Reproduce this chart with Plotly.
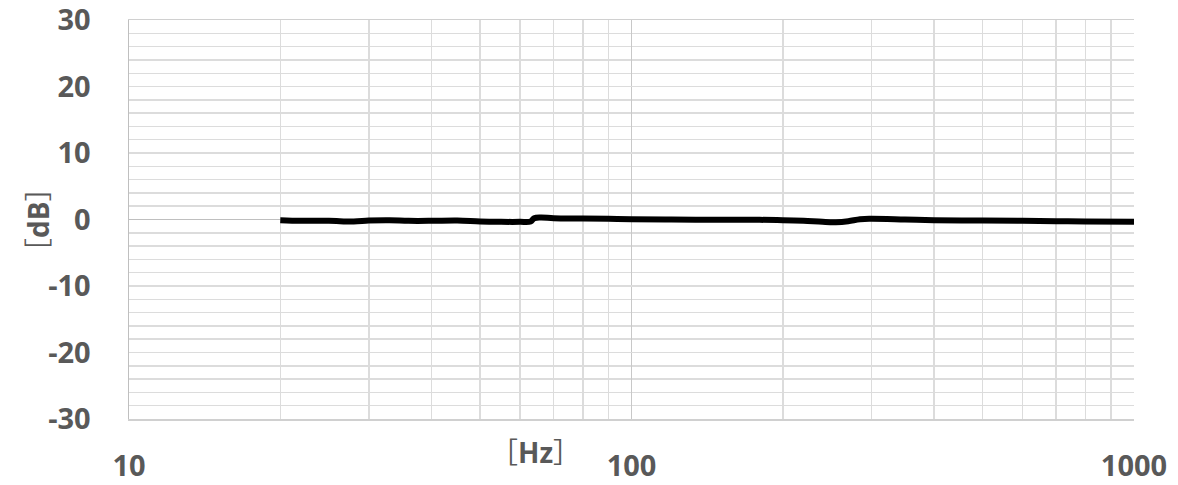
import plotly.graph_objects as go

freq_hz = [20, 22, 25, 28, 30, 33, 36, 40, 45, 50, 55, 60, 63, 64, 66, 70, 80, 90,
           100, 120, 150, 180, 200, 220, 240, 255, 270, 285, 300, 350, 400, 500,
           600, 700, 800, 1000]
level_db = [-0.1, -0.2, -0.2, -0.3, -0.15, -0.1, -0.2, -0.2, -0.15, -0.3, -0.35, -0.35,
            -0.3, 0.2, 0.3, 0.2, 0.15, 0.1, 0.05, 0.0, -0.05, -0.05, -0.1, -0.2, -0.35,
            -0.4, -0.25, 0.05, 0.1, 0.0, -0.1, -0.15, -0.2, -0.25, -0.3, -0.35]

x_major = [10, 100, 1000]
x_minor = [20, 30, 40, 50, 60, 70, 80, 90, 200, 300, 400, 500, 600, 700, 800, 900]
y_ticks = [-30, -20, -10, 0, 10, 20, 30]
y_labels = ["-30", "-20", "-10", "0", "10", "20", "30"]

txt = "#595959"
font_family = "Open Sans, Noto Sans CJK JP, sans-serif"

# body margin is removed by post_script, so figure fills the window exactly
L, R, T, B = 129, 44, 20, 66
W, H = 1178, 485

fig = go.Figure()
fig.add_trace(go.Scatter(x=freq_hz, y=level_db, mode="lines",
                         line=dict(color="#000000", width=6, shape="spline"),
                         showlegend=False, hoverinfo="skip"))

fig.update_layout(
    width=W, height=H,
    margin=dict(l=L, r=R, t=T, b=B),
    paper_bgcolor="white", plot_bgcolor="white",
    font=dict(family=font_family, color=txt),
    hovermode=False,
    xaxis=dict(type="log", range=[1, 3], tickvals=x_major,
               ticktext=[str(v) for v in x_major],
               tickfont=dict(size=29, color=txt, family=font_family, weight="bold"),
               showgrid=True, gridcolor="#c8c8c8", gridwidth=1.5,
               minor=dict(tickvals=x_minor, showgrid=True, gridcolor="#dcdcdc", gridwidth=1.5),
               ticks="", ticklabelstandoff=21, automargin=False, ticklabeloverflow="allow",
               showline=True, linecolor="#d0d0d0", linewidth=1.5, mirror=True,
               zeroline=False),
    yaxis=dict(range=[-30.01, 30.01], tickvals=y_ticks, ticktext=y_labels,
               tickfont=dict(size=29, color=txt, family=font_family, weight="bold"),
               showgrid=True, gridcolor="#dcdcdc", gridwidth=1.5,
               minor=dict(dtick=2, showgrid=True, gridcolor="#dcdcdc", gridwidth=1.5),
               ticks="", ticklabelstandoff=31, automargin=False, ticklabeloverflow="allow",
               zeroline=True, zerolinecolor="#bfbfbf", zerolinewidth=1.5,
               showline=True, linecolor="#bfbfbf", linewidth=1.5),
)

pw = W - L - R
ph = H - T - B
def to_paper(px, py):
    return (px - L) / pw, (H - B - py) / ph

hx, hy = to_paper(535, 452)
dx, dy = to_paper(38, 220)
fig.add_annotation(text="［<b>Hz</b>］", x=hx, y=hy, xref="paper", yref="paper",
                   xanchor="center", yanchor="middle", showarrow=False,
                   font=dict(size=28, color=txt, family=font_family))
fig.add_annotation(text="［<b>dB</b>］", x=dx, y=dy, xref="paper", yref="paper",
                   xanchor="center", yanchor="middle", showarrow=False, textangle=-90,
                   font=dict(size=28, color=txt, family=font_family))

fig.write_html("out.html", config={"displayModeBar": False, "staticPlot": True},
               post_script="document.body.style.margin='0';document.body.style.overflow='hidden';")
